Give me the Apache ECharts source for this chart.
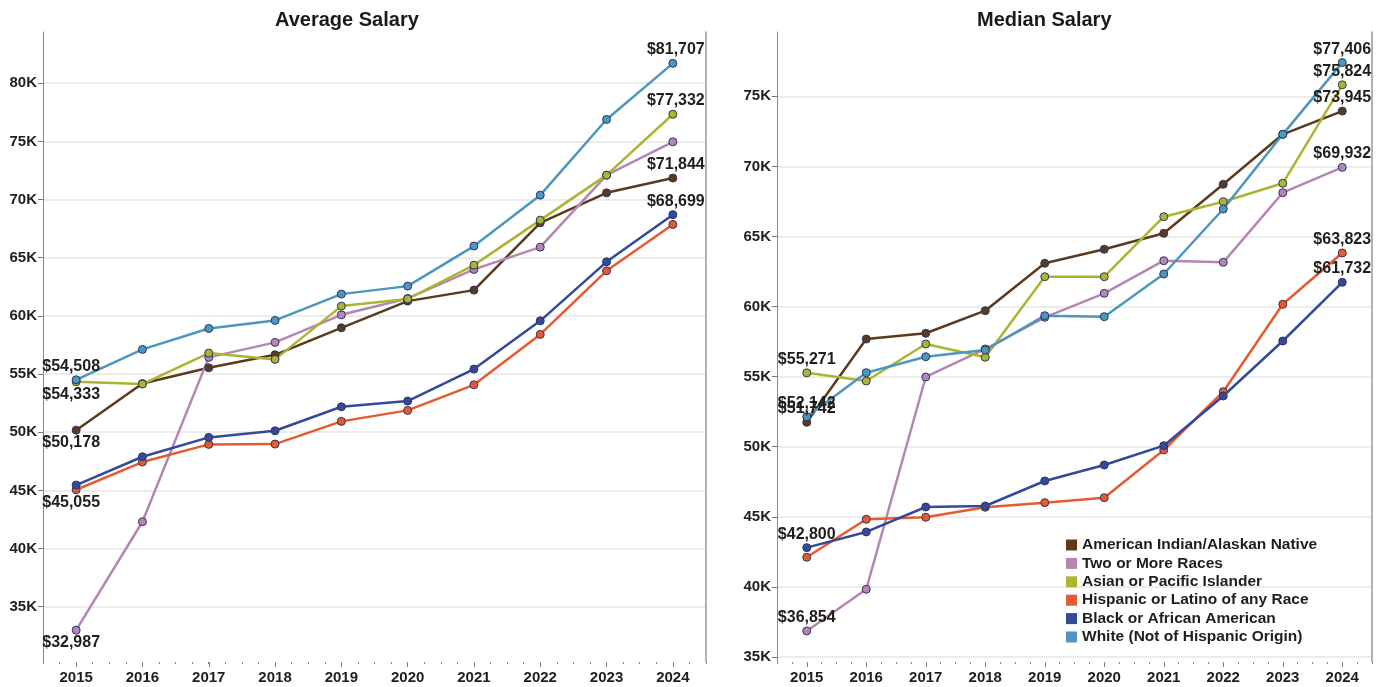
<!DOCTYPE html>
<html>
<head>
<meta charset="utf-8">
<script src="https://cdn.jsdelivr.net/npm/echarts@6/dist/echarts.min.js"></script>
<style>
  html, body { margin: 0; padding: 0; background: #fff; }
  #chart { width: 1382px; height: 687px; }
</style>
</head>
<body>
<div id="chart"></div>
<script>
const years = ['2015', '2016', '2017', '2018', '2019', '2020', '2021', '2022', '2023', '2024']
const names = [
  'American Indian/Alaskan Native',
  'Two or More Races',
  'Asian or Pacific Islander',
  'Hispanic or Latino of any Race',
  'Black or African American',
  'White (Not of Hispanic Origin)'
]
const colors = ['#5b3a1d', '#b585b3', '#abb52f', '#e55a30', '#344a99', '#4b97bd']

// average salary
const avgAmInd    = [50178, 54180, 55537, 56655, 58974, 61269, 62214, 67997, 70575, 71844]
const avgTwoMore  = [32987, 42304, 56431, 57720, 60090, 61500, 63992, 65909, 72096, 74957]
const avgAsian    = [54333, 54137, 56800, 56260, 60839, 61450, 64362, 68229, 72096, 77332]
const avgHispanic = [45055, 47434, 48955, 48980, 50931, 51877, 54076, 58407, 63872, 67860]
const avgBlack    = [45458, 47890, 49556, 50124, 52186, 52676, 55426, 59576, 64646, 68699]
const avgWhite    = [54508, 57118, 58920, 59610, 61870, 62558, 66000, 70378, 76882, 81707]

// median salary
const medAmInd    = [51742, 57686, 58093, 59705, 63087, 64085, 65227, 68722, 72289, 73945]
const medTwoMore  = [36854, 39830, 54975, 56973, 59235, 60946, 63272, 63157, 68123, 69932]
const medAsian    = [55271, 54690, 57329, 56381, 62131, 62131, 66411, 67481, 68794, 75824]
const medHispanic = [42113, 44823, 44966, 45680, 46008, 46364, 49767, 53927, 60162, 63823]
const medBlack    = [42800, 43918, 45701, 45772, 47556, 48697, 50074, 53620, 57543, 61732]
const medWhite    = [52142, 55282, 56424, 56901, 59349, 59280, 62323, 66960, 72289, 77406]

const avgData = [avgAmInd, avgTwoMore, avgAsian, avgHispanic, avgBlack, avgWhite]
const medData = [medAmInd, medTwoMore, medAsian, medHispanic, medBlack, medWhite]

// which end points carry a value label (index by series), and where
const avgFirstLabels = ['bottom', 'bottom', 'bottom', 'bottom', null, 'top']
const avgLastLabels  = ['top', null, 'top', null, 'top', 'top']
const medFirstLabels = ['top', 'top', 'top', null, 'top', 'top']
const medLastLabels  = ['top', 'top', 'top', 'top', 'top', 'top']

const font = '"Liberation Sans", Arial, sans-serif'
const money = v => '$' + v.toLocaleString('en-US')

const endLabel = (pos, dx) => ({
  show: true,
  position: pos,
  distance: pos === 'top' ? 1 : 0,
  offset: [dx, 0],
  formatter: p => money(p.value),
  fontFamily: font,
  fontWeight: 'bold',
  fontSize: 16,
  color: '#1e1e1e'
})

const makeSeries = (data, firstLabels, lastLabels, gridIdx, dxFirst, dxLast) =>
  data.map((vals, i) => ({
    name: names[i],
    type: 'line',
    xAxisIndex: gridIdx * 2,
    yAxisIndex: gridIdx * 2,
    symbol: 'circle',
    symbolSize: 8,
    lineStyle: { width: 2.5, color: colors[i] },
    itemStyle: { color: colors[i], borderColor: '#2c3566', borderWidth: 1 },
    emphasis: { disabled: true },
    data: vals.map((v, j) => {
      if (j === 0 && firstLabels[i]) return { value: v, label: endLabel(firstLabels[i], dxFirst) }
      if (j === vals.length - 1 && lastLabels[i]) return { value: v, label: endLabel(lastLabels[i], dxLast) }
      return v
    })
  }))

const quarters = Array.from({ length: 40 }, () => '')

const xMain = gridIdx => ({
  type: 'category',
  gridIndex: gridIdx,
  data: years,
  boundaryGap: true,
  position: 'bottom',
  axisLine: { show: false },
  axisTick: { show: true, alignWithLabel: true, length: 5, lineStyle: { color: '#777' } },
  axisLabel: { fontFamily: font, fontWeight: 'bold', fontSize: 15, color: '#1e1e1e', margin: 8 }
})
const xMinor = gridIdx => ({
  type: 'category',
  gridIndex: gridIdx,
  data: quarters,
  boundaryGap: true,
  position: 'bottom',
  axisLine: { show: false },
  axisTick: { show: true, interval: 0, length: 2, lineStyle: { color: '#888' } },
  axisLabel: { show: false },
  splitLine: { show: false }
})
const yMain = (gridIdx, min, max) => ({
  type: 'value',
  gridIndex: gridIdx,
  min: min,
  max: max,
  minInterval: 5000,
  maxInterval: 5000,
  axisLine: { show: true, lineStyle: { color: '#888', width: 1 } },
  axisTick: { show: true, length: 5, lineStyle: { color: '#777' } },
  axisLabel: {
    fontFamily: font, fontWeight: 'bold', fontSize: 15, color: '#1e1e1e', margin: 6,
    showMinLabel: false, showMaxLabel: false,
    formatter: v => v / 1000 + 'K'
  },
  splitLine: { show: true, showMinLine: false, showMaxLine: false, lineStyle: { color: '#e6e6e6', width: 1.5 } }
})
const yBorder = gridIdx => ({
  type: 'value',
  gridIndex: gridIdx,
  position: 'right',
  min: 0,
  max: 1,
  axisLine: { show: true, lineStyle: { color: '#999', width: 1.5 } },
  axisTick: { show: false },
  axisLabel: { show: false },
  splitLine: { show: false }
})

const titleStyle = { fontFamily: font, fontWeight: 'bold', fontSize: 20, color: '#1a1a1a' }

const chart = echarts.init(document.getElementById('chart'))
chart.setOption({
  animation: false,
  backgroundColor: '#fff',
  title: [
    { text: 'Average Salary', left: 270, top: 5, textStyle: titleStyle },
    { text: 'Median Salary', left: 972, top: 5, textStyle: titleStyle }
  ],
  legend: {
    data: names,
    orient: 'vertical',
    left: 1066,
    top: 537,
    padding: 0,
    itemWidth: 11,
    itemHeight: 11,
    itemGap: 2.4,
    icon: 'rect',
    itemStyle: { borderWidth: 0 },
    textStyle: { fontFamily: font, fontWeight: 'bold', fontSize: 15.5, lineHeight: 16, color: '#1e1e1e' }
  },
  grid: [
    { left: 43, right: 676, top: 32, bottom: 25 },
    { left: 777, right: 10, top: 32, bottom: 25 }
  ],
  xAxis: [xMain(0), xMinor(0), xMain(1), xMinor(1)],
  yAxis: [yMain(0, 30250, 84400), yBorder(0), yMain(1, 34640, 79590), yBorder(1)],
  series: [
    ...makeSeries(avgData, avgFirstLabels, avgLastLabels, 0, -5, 3),
    ...makeSeries(medData, medFirstLabels, medLastLabels, 1, 0, 0)
  ]
})
</script>
</body>
</html>
